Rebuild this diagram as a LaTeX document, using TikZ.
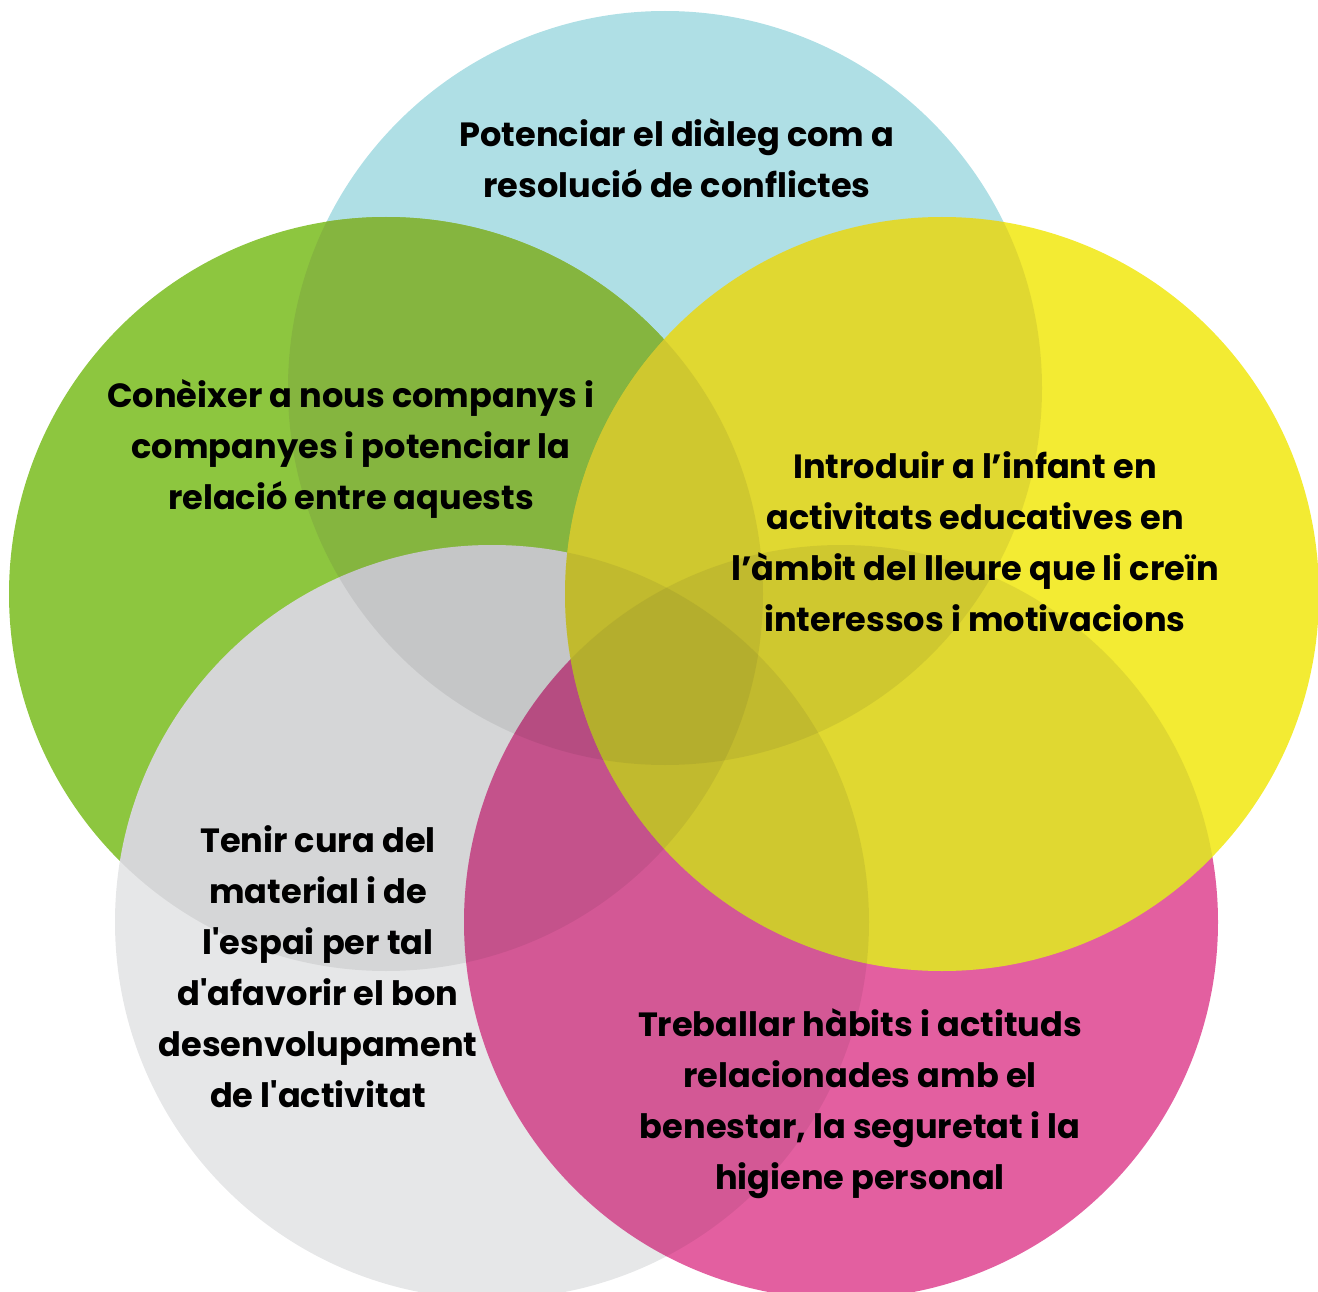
\documentclass[tikz,border=0pt]{standalone}
\usepackage{fontspec}
\setmainfont{Poppins}
\definecolor{cblue}{HTML}{AFDFE5}
\definecolor{cgreen}{HTML}{8DC63F}
\definecolor{cgreenblue}{HTML}{85B53F}
\definecolor{cgray}{HTML}{E6E7E8}
\definecolor{cpink}{HTML}{E35FA0}
\definecolor{cyellow}{HTML}{F3EB33}
\definecolor{colive}{RGB}{100,95,40}
\tikzset{
  goaltext/.style={font=\bfseries\fontsize{33.6}{51}\selectfont, align=center, text=black},
  darkgray/.style={fill=black, fill opacity=0.07},
  darkpink/.style={fill=black, fill opacity=0.065},
  darkyellow/.style={fill=colive, fill opacity=0.13},
}
\begin{document}
\begin{tikzpicture}[x=1pt,y=-1pt]
\useasboundingbox (0,0) rectangle (1318,1292);
\def\r{377}
\coordinate (blue) at (665,388);
\coordinate (green) at (386,594);
\coordinate (yellow) at (942,594);
\coordinate (gray) at (492,922);
\coordinate (pink) at (841,922);

% circles, back to front
\fill[cblue] (blue) circle (\r);
\fill[cgreen] (green) circle (\r);
\begin{scope}
  \clip (green) circle (\r);
  \fill[cgreenblue] (blue) circle (\r);
\end{scope}
\fill[cgray] (gray) circle (\r);
\begin{scope}
  \clip (gray) circle (\r);
  \foreach \c in {green,blue} \fill[darkgray] (\c) circle (\r);
\end{scope}
\fill[cpink] (pink) circle (\r);
\begin{scope}
  \clip (pink) circle (\r);
  \foreach \c in {gray,green,blue} \fill[darkpink] (\c) circle (\r);
\end{scope}
\fill[cyellow] (yellow) circle (\r);
\begin{scope}
  \clip (yellow) circle (\r);
  \foreach \c in {blue,green,gray,pink} \fill[darkyellow] (\c) circle (\r);
\end{scope}

% texts
\node[goaltext] (dialeg) at (677,158) {Potenciar el diàleg com a\\resolució de conflictes};
\node[goaltext] (companys) at (351,449) {Conèixer a nous companys i\\companyes i potenciar la\\relació entre aquests};
\node[goaltext] (lleure) at (975,542) {Introduir a l’infant en\\activitats educatives en\\l’àmbit del lleure que li creïn\\interessos i motivacions};
\node[goaltext] (material) at (318,967) {Tenir cura del\\material i de\\l\textquotesingle espai per tal\\d\textquotesingle afavorir el bon\\desenvolupament\\de l\textquotesingle activitat};
\node[goaltext] (habits) at (860,1104) {Treballar hàbits i actituds\\relacionades amb el\\benestar, la seguretat i la\\higiene personal};
\end{tikzpicture}
\end{document}
